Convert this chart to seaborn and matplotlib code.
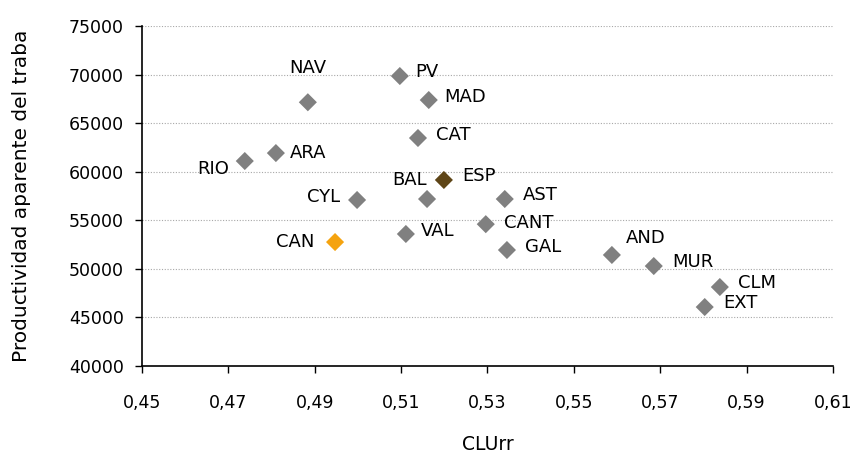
import numpy as np
import pandas as pd
import matplotlib
matplotlib.use("Agg")
import matplotlib.pyplot as plt
import seaborn as sns
from matplotlib.ticker import FuncFormatter

# datos
regiones = ["NAV", "PV", "MAD", "CAT", "ESP", "BAL", "AST", "CANT", "GAL", "VAL",
            "AND", "MUR", "CLM", "EXT", "CAN", "CYL", "RIO", "ARA"]
clurr = [0.4884, 0.5097, 0.5164, 0.5139, 0.5199, 0.5160, 0.5340, 0.5296, 0.5345, 0.5111,
         0.5588, 0.5685, 0.5838, 0.5803, 0.4947, 0.4998, 0.4738, 0.4810]
productividad = [67150, 69850, 67380, 63470, 59150, 57190, 57190, 54600, 51940, 53590,
                 51430, 50290, 48130, 46070, 52760, 57090, 61100, 61920]
grupo = ["CCAA"] * 18
grupo[regiones.index("ESP")] = "ESP"
grupo[regiones.index("CAN")] = "CAN"

x_ticks = [0.45, 0.47, 0.49, 0.51, 0.53, 0.55, 0.57, 0.59, 0.61]
y_ticks = [40000, 45000, 50000, 55000, 60000, 65000, 70000, 75000]

colores = {"CCAA": "#808080", "ESP": "#5e4517", "CAN": "#f5a30f"}

# desplazamiento de cada etiqueta (puntos) y alineacion
etiquetas = {
    "NAV": (0, 25, "center"), "PV": (11, 3, "left"), "MAD": (11, 2, "left"),
    "CAT": (13, 2, "left"), "ESP": (13, 3, "left"), "BAL": (0, 14, "right"),
    "AST": (13, 3, "left"), "CANT": (13, 1, "left"), "GAL": (13, 2, "left"),
    "VAL": (11, 2, "left"), "AND": (10, 12, "left"), "MUR": (13, 3, "left"),
    "CLM": (13, 3, "left"), "EXT": (13, 3, "left"), "CAN": (-15, 0, "right"),
    "CYL": (-12, 2, "right"), "RIO": (-11, -6, "right"), "ARA": (10, 0, "left"),
}

df = pd.DataFrame({"region": regiones, "CLUrr": clurr,
                   "prod": productividad, "grupo": grupo})

sns.set_theme(style="white")
plt.rcParams["font.family"] = ["DejaVu Sans"]

fig = plt.figure(figsize=(8.55, 4.54), dpi=100)
ax = fig.add_axes([142 / 855, 1 - 366 / 454, (833 - 142) / 855, (366 - 26) / 454])

sns.scatterplot(data=df, x="CLUrr", y="prod", hue="grupo", palette=colores,
                marker="D", s=85, linewidth=0, legend=False, ax=ax, zorder=3)

for _, r in df.iterrows():
    dx, dy, ha = etiquetas[r["region"]]
    ax.annotate(r["region"], (r["CLUrr"], r["prod"]), xytext=(dx, dy),
                textcoords="offset points", ha=ha, va="center",
                fontsize=13, color="black")

ax.set_xlim(0.45, 0.61)
ax.set_ylim(40000, 75000)
ax.set_xticks(x_ticks)
ax.set_yticks(y_ticks)
ax.xaxis.set_major_formatter(FuncFormatter(lambda v, p: f"{v:.2f}".replace(".", ",")))
ax.yaxis.set_major_formatter(FuncFormatter(lambda v, p: f"{int(v)}"))

ax.grid(axis="y", color="#a8a8a8", linestyle=(0, (1, 1.5)), linewidth=0.8)
ax.grid(axis="x", visible=False)

for s in ["top", "right"]:
    ax.spines[s].set_visible(False)
for s in ["left", "bottom"]:
    ax.spines[s].set_color("black")
    ax.spines[s].set_linewidth(1.2)

ax.tick_params(axis="both", direction="out", length=5, width=1, color="black",
               labelsize=12.5, labelcolor="black", left=True, bottom=True)
ax.tick_params(axis="x", pad=15)
ax.tick_params(axis="y", pad=8)

ax.set_xlabel("CLUrr", fontsize=13.5, labelpad=17, color="black")
ax.set_ylabel("Productividad aparente del traba", fontsize=14.5, labelpad=27, color="black")

fig.savefig("out.png", dpi=100)
